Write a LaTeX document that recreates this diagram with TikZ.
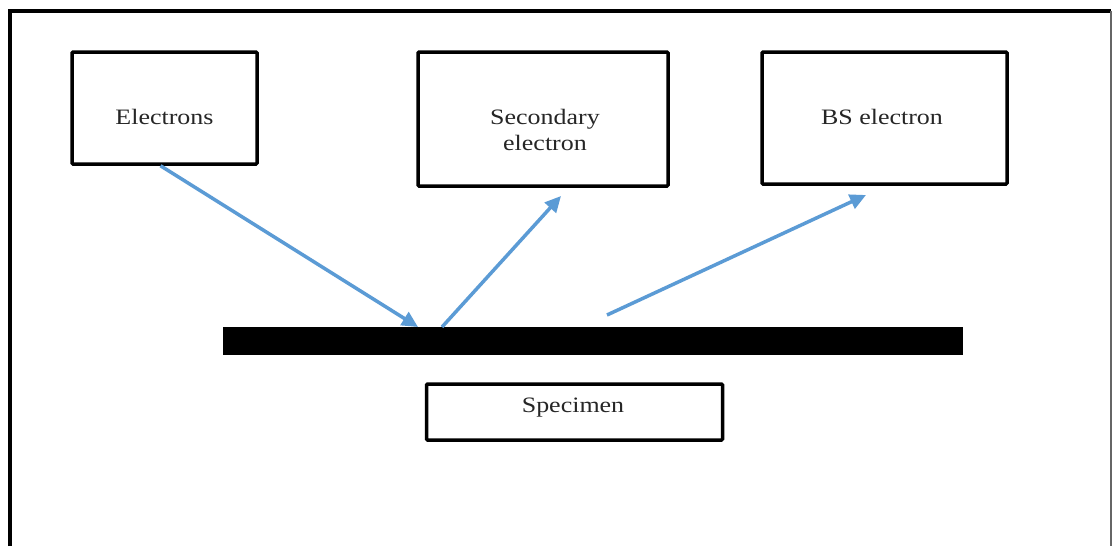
\documentclass[tikz,border=0pt]{standalone}
\usepackage{fontspec}
\setmainfont[FakeStretch=1.18]{Liberation Serif}
\usetikzlibrary{arrows.meta}
\definecolor{arrowblue}{HTML}{5B9BD5}
\begin{document}
\begin{tikzpicture}[x=1pt,y=-1pt,
  box/.style={draw=black,line width=3.5pt,rounded corners=1pt,inner sep=0pt,align=center,
    font=\fontsize{22}{26}\selectfont},
  ray/.style={draw=arrowblue,line width=3.5pt,-{Triangle[length=16pt,width=15pt]}},
  txt/.style={font=\fontsize{22}{26}\selectfont,align=center,inner sep=0pt,text=black!85}]
\useasboundingbox (0,0) rectangle (1113,546);
\fill[white] (0,0) rectangle (1113,546);
% outer frame
\draw[line width=3.5pt] (10,546) -- (10,11) -- (1111,11);
\draw[line width=2pt,black!60] (1111,11) -- (1111,546);
% boxes
\node[box,minimum width=185pt,minimum height=112pt] (el) at (164.5,108) {};
\node[txt] at (164.5,117) {Electrons};
\node[box,minimum width=250pt,minimum height=134pt] (se) at (543,119) {};
\node[txt] at (545,130) {Secondary\\electron};
\node[box,minimum width=245pt,minimum height=132pt] (bs) at (884.5,118) {};
\node[txt] at (882,117) {BS electron};
% specimen bar
\node[fill=black,minimum width=740pt,minimum height=28pt,inner sep=0pt] (bar) at (593,341) {};
\node[box,minimum width=296pt,minimum height=56pt] (sp) at (574.5,412) {};
\node[txt] at (573,408) {Specimen};
% points
\coordinate (hit) at (418,327);
\coordinate (out1) at (442,327);
\coordinate (out2) at (607,315);
\coordinate (seend) at (561,196);
\coordinate (bsend) at (866,195);
% rays
\draw[ray] ([xshift=-4pt]el.south) -- (hit);
\draw[ray] (out1) -- (seend);
\draw[ray] (out2) -- (bsend);
\end{tikzpicture}
\end{document}
